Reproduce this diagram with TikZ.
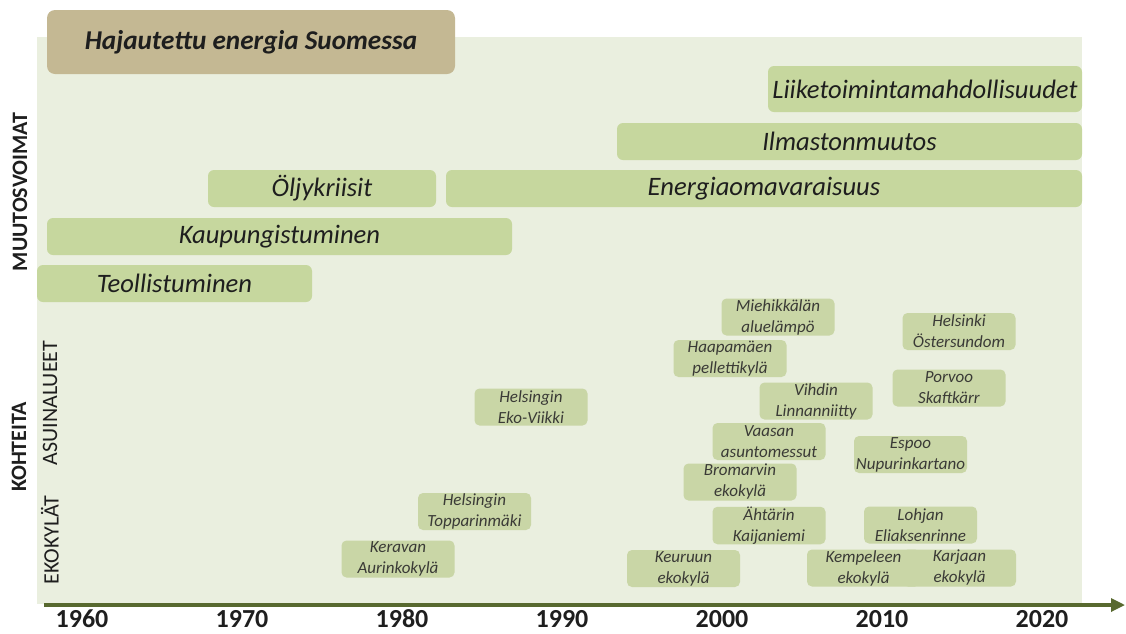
\documentclass[tikz,border=0pt]{standalone}
\usepackage{fontspec}
\setmainfont{Carlito}
\usetikzlibrary{arrows.meta, positioning}
\definecolor{paperGreen}{HTML}{EAEFDF}
\definecolor{barGreen}{HTML}{C6D79E}
\definecolor{siteGreen}{HTML}{C9D6A6}
\definecolor{titleTan}{HTML}{C4B893}
\definecolor{axisOlive}{HTML}{58692F}
\definecolor{inkDark}{HTML}{1E1E1E}
\definecolor{inkSite}{HTML}{3A3A36}

\begin{document}
\begin{tikzpicture}[x=0.5pt, y=-0.5pt,
    bar/.style={rectangle, rounded corners=3pt, fill=barGreen, inner sep=0pt,
      minimum height=18.5pt, text=inkDark, font=\fontsize{13.3}{15}\selectfont\itshape},
    site/.style={rectangle, rounded corners=2.5pt, fill=siteGreen, inner sep=0pt,
      minimum width=56.5pt, minimum height=18.5pt, align=center, text=inkSite,
      font=\fontsize{8.5}{10.5}\selectfont\itshape},
    yearlbl/.style={font=\fontsize{13}{15}\selectfont\bfseries, text=inkDark},
    sidelbl/.style={rotate=90, font=\fontsize{11}{13}\selectfont, text=inkDark}]
  \useasboundingbox (0,0) rectangle (1126,633);
  % tausta
  \fill[paperGreen] (37,37) rectangle (1082,604);
  % otsikko
  \node[rectangle, rounded corners=4pt, fill=titleTan, inner sep=0pt,
        minimum width=204pt, minimum height=32pt, text=inkDark,
        font=\fontsize{13.6}{16}\selectfont\bfseries\itshape]
        (title) at (251,42) {Hajautettu energia Suomessa};
  % muutosvoimat
  \node[bar, minimum width=157pt, minimum height=23pt] (liike) at (925,89) {Liiketoimintamahdollisuudet};
  \node[bar, minimum width=232.5pt] (ilmasto) at (849.5,141.5) {Ilmastonmuutos};
  \node[bar, minimum width=318pt] (omavar) at (764,188.5) {Energiaomavaraisuus};
  \node[bar, minimum width=114pt] (oljy) at (322,188.5) {Öljykriisit};
  \node[bar, minimum width=232.5pt] (kaupunki) at (279.5,236.5) {Kaupungistuminen};
  \node[bar, minimum width=137.5pt] (teoll) at (174.5,283.5) {Teollistuminen};
  % sivuotsikot
  \node[sidelbl, font=\fontsize{11}{13}\selectfont\bfseries] (muutos) at (20,192) {MUUTOSVOIMAT};
  \node[sidelbl, font=\fontsize{11}{13}\selectfont\bfseries] (kohteita) at (19,447) {KOHTEITA};
  \node[sidelbl] (asuin) at (50,403) {ASUINALUEET};
  \node[sidelbl] (ekokylat) at (50,540) {EKOKYLÄT};
  % kohteet
  \node[site] (viikki) at (531,407) {Helsingin\\Eko-Viikki};
  \node[site] (toppari) at (474.5,511.5) {Helsingin\\Topparinmäki};
  \node[site] (kerava) at (398,559) {Keravan\\Aurinkokylä};
  \node[site] (miehikka) at (778,317) {Miehikkälän\\aluelämpö};
  \node[site] (haapamaki) at (730,358.5) {Haapamäen\\pellettikylä};
  \node[site] (vihti) at (816,401) {Vihdin\\Linnanniitty};
  \node[site] (vaasa) at (769,441.5) {Vaasan\\asuntomessut};
  \node[site] (bromarv) at (740,482) {Bromarvin\\ekokylä};
  \node[site] (ahtari) at (769,525.5) {Ähtärin\\Kaijaniemi};
  \node[site] (keuruu) at (683.5,568.5) {Keuruun\\ekokylä};
  \node[site] (kempele) at (863.5,568) {Kempeleen\\ekokylä};
  \node[site] (karjaa) at (959.5,568) {Karjaan\\ekokylä};
  \node[site] (oster) at (959,331.5) {Helsinki\\Östersundom};
  \node[site] (skaft) at (949,388) {Porvoo\\Skaftkärr};
  \node[site] (nupuri) at (910.5,454.5) {Espoo\\Nupurinkartano};
  \node[site] (eliakse) at (920.5,525) {Lohjan\\Eliaksenrinne};
  % aikajana
  \coordinate (axstart) at (44,605);
  \coordinate (axend) at (1125,605);
  \draw[axisOlive, line width=1.6pt, -{Triangle[length=7pt, width=6.5pt]}] (axstart) -- (axend);
  \foreach \yr [count=\i from 0] in {1960,1970,...,2020}
    \node[yearlbl] (y\yr) at ({82+160*\i},619) {\yr};
\end{tikzpicture}
\end{document}
